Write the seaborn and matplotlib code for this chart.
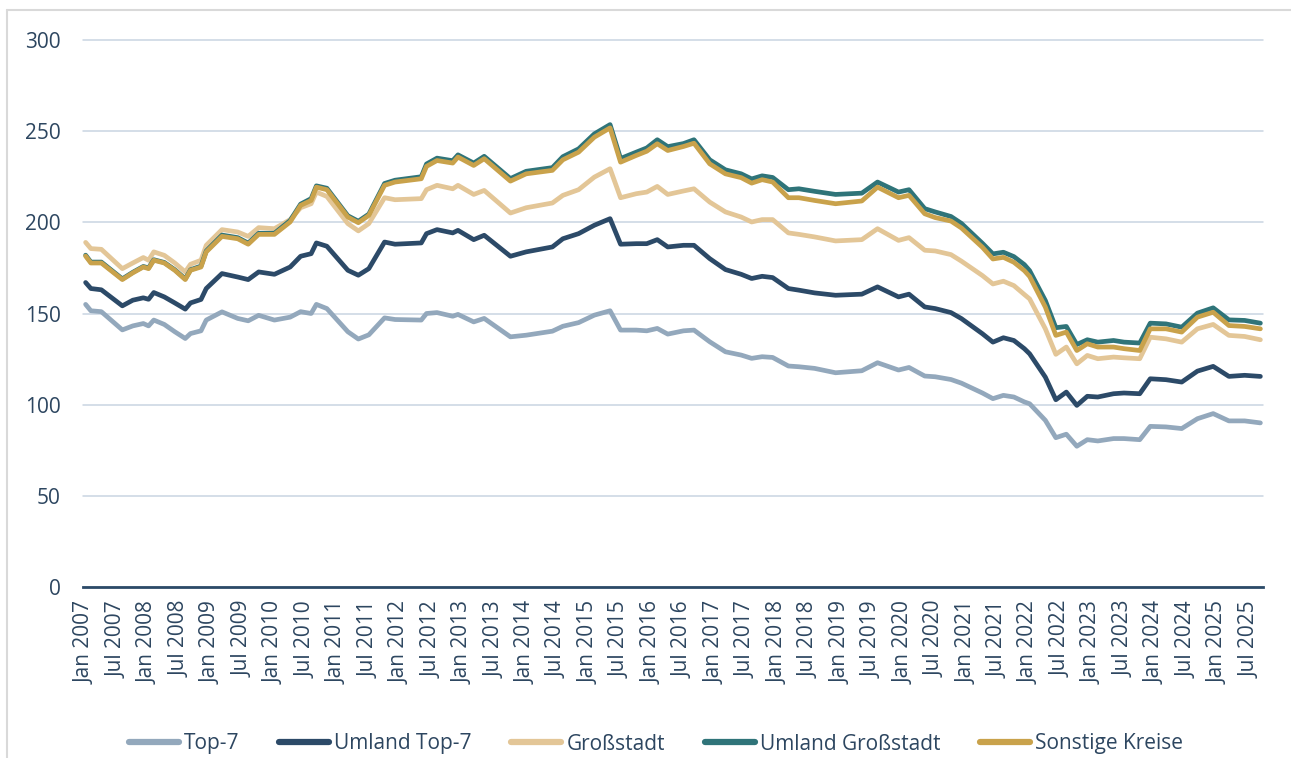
import matplotlib
matplotlib.use("Agg")
import matplotlib.pyplot as plt
from matplotlib.lines import Line2D
import seaborn as sns
import pandas as pd

# month offsets from Jan 2007 (0 = Jan 2007, 224 = Sep 2025)
month_index = [0, 1, 3, 7, 9, 11, 12, 13, 15, 17, 19, 20, 22, 23, 26, 29, 31, 33, 36, 39,
               41, 43, 44, 46, 50, 52, 54,
               57, 59, 64, 65, 67, 70, 71, 74, 76, 81, 84, 89, 91, 94, 97, 100, 102, 105,
               107, 109, 111,
               114, 116, 119, 122, 125, 127, 129, 131, 134, 136, 139, 143, 148, 151, 155,
               157, 160, 162, 165, 167,
               171, 173, 175, 177, 179, 180, 183, 185, 187, 189, 191, 193, 196, 198, 201,
               203, 206, 209, 212, 215, 218, 221, 224]

top7 = [155, 151.5, 151, 141, 143.2, 144.5, 143.2, 146.4, 144, 140, 136.3, 139, 140.5, 146.4,
        150.9, 147.3, 146, 149, 146.4, 148, 151, 150, 155, 152.7, 140, 136, 138.3,
        147.6, 146.7, 146.4, 150, 150.5, 148.5, 149.5, 145.4, 147.3, 137.2, 138.1, 140.3,
        143, 145, 149.1, 151.5, 140.9, 140.9, 140.5, 141.8, 138.7,
        140.5, 140.9, 134.5, 129, 127.2, 125.4, 126.3, 125.9, 121.2, 120.8, 119.9, 117.5,
        118.6, 123, 119, 120.4, 115.7, 115.3, 113.8, 111.8,
        106.4, 103.3, 105.1, 104.2, 101.5, 100.5, 91.4, 81.9, 83.8, 77.2, 80.8, 80.1, 81.4,
        81.4, 80.8, 88.1, 87.8, 86.9, 92.3, 95.1, 91.1, 91.1, 90]

umland_top7 = [167, 163.7, 163, 154.2, 157.3, 158.6, 157.8, 161.5, 159.1, 155.8, 152.4, 155.8,
               157.7, 163.7, 171.9, 170, 168.6, 172.8, 171.5, 175.5, 181.4, 182.8, 188.7,
               186.9, 173.7, 171, 174.6,
               189.2, 188, 188.7, 193.8, 196, 194.2, 195.6, 190.5, 192.9, 181.4, 183.8, 186.5,
               191, 193.8, 198.4, 202, 188, 188.3, 188.3, 190.5, 186.5,
               187.4, 187.4, 180.1, 174.1, 171.5, 169.2, 170.4, 169.7, 163.7, 162.8, 161.3,
               160, 160.6, 164.6, 159.1, 160.6, 153.6, 152.7, 150.5, 147.2,
               138.9, 134.3, 136.7, 135.2, 130.7, 127.9, 115.1, 102.7, 106.9, 99.6, 104.6,
               104.2, 106, 106.4, 106, 114.2, 113.7, 112.4, 118.4, 121, 115.5, 116.1, 115.5]

grossstadt = [189, 185.6, 185.2, 174.6, 177.7, 180.7, 179.2, 183.8, 181.9, 177.7, 172.8, 177,
              179.2, 187.4, 196, 194.7, 192.3, 197.1, 196.5, 201.5, 208, 210.2, 216.6, 214.2,
              199.3, 195.3, 199.3,
              213.5, 212.4, 213, 217.9, 220.3, 218.4, 220.3, 215.3, 217.5, 205.1, 208, 210.6,
              214.8, 217.9, 224.8, 229.4, 213.5, 215.7, 216.6, 219.7, 215.3,
              217.2, 218.4, 211.1, 205.7, 202.9, 200.2, 201.5, 201.5, 194.2, 193.4, 192,
              189.8, 190.5, 196.5, 190.1, 191.6, 184.7, 184.3, 182.3, 178.7,
              170.8, 166.2, 167.7, 165.3, 160.4, 158, 141.6, 127.6, 131.6, 122.4, 127, 125.2,
              126.1, 125.7, 125.2, 137, 136.1, 134.3, 141.6, 144, 138, 137.4, 135.6]

umland_grossstadt = [182, 178.2, 178.2, 169, 172.6, 175.8, 175, 179.5, 178, 174, 169, 174,
                     176, 184.3, 193, 191.6, 188.6, 194, 194, 201, 210, 213, 220, 218.7,
                     203.6, 200.6, 204.5,
                     221.3, 223.1, 225, 232, 235.2, 233.8, 237, 232.5, 236.2, 224, 228, 230,
                     236, 240.3, 248.5, 253.6, 235, 238.5, 240.8, 245.3, 241.5,
                     243.2, 245.3, 234.3, 228.8, 226.6, 223.8, 225.5, 224.6, 217.9, 218.4,
                     217, 215.3, 216, 222.1, 216.6, 217.9, 207.5, 205.7, 203.2, 199.4,
                     188.5, 182.7, 183.6, 181.2, 176.8, 173.5, 157.1, 142.2, 142.9, 133,
                     135.6, 134.3, 135.2, 134.3, 133.8, 144.7, 144.3, 142.5, 150.2, 153.1,
                     146.5, 146.2, 144.7]

sonstige_kreise = [181.5, 177.7, 177.7, 168.6, 172.3, 175.5, 174.6, 179.2, 177.7, 173.7, 168.6,
                   173.7, 175.5, 183.8, 192.3, 191, 188, 193.4, 193.4, 200.2, 209.3, 212,
                   219.3, 217.9, 202.9, 199.8, 203.8,
                   220.3, 222.1, 223.9, 230.7, 233.9, 232.5, 235.8, 231.2, 234.9, 222.6, 226.6,
                   228.5, 234.3, 238.5, 246.7, 251.8, 233, 236.7, 239, 243.1, 239.4,
                   241.6, 243.4, 232.1, 226.6, 224.5, 221.5, 223.4, 222.1, 213.5, 213.5, 212,
                   210.2, 211.7, 219.3, 213.5, 214.8, 204.7, 202.6, 200.7, 196.9,
                   186.3, 179.9, 180.8, 178.1, 173.5, 170.3, 153.5, 138, 139.8, 129.7, 133.4,
                   131.6, 131.6, 130.7, 129.7, 141.6, 141.6, 139.8, 148, 150.7, 143.4, 142.9,
                   141.6]

series_names = ["Top-7", "Umland Top-7", "Großstadt", "Umland Großstadt", "Sonstige Kreise"]
series_colors = ["#93A8BC", "#2C4A68", "#E3C697", "#2F7479", "#C9A24B"]

tick_labels = [f"{'Jan' if i % 2 == 0 else 'Jul'} {2007 + i // 2}" for i in range(38)]
tick_positions = [6 * i for i in range(len(tick_labels))]
y_ticks = [0, 50, 100, 150, 200, 250, 300]

text_color = "#2D4660"

sns.set_theme(style="white")
plt.rcParams["font.family"] = ["Open Sans", "DejaVu Sans"]

wide = pd.DataFrame({
    "month": month_index,
    "Top-7": top7,
    "Umland Top-7": umland_top7,
    "Großstadt": grossstadt,
    "Umland Großstadt": umland_grossstadt,
    "Sonstige Kreise": sonstige_kreise,
})
df = wide.melt(id_vars="month", var_name="series", value_name="value")

W, H = 1291, 758
fig = plt.figure(figsize=(W / 100, H / 100), dpi=100)
ax = fig.add_axes([83 / W, 1 - 587 / H, 1180 / W, 547 / H])

sns.lineplot(data=df, x="month", y="value", hue="series", hue_order=series_names,
             palette=series_colors, linewidth=3.4, legend=False, estimator=None, ax=ax)
for ln in ax.lines:
    ln.set_solid_joinstyle("round")
    ln.set_solid_capstyle("round")

ax.set_xlim(-0.5, 224.5)
ax.set_ylim(0, 300)
ax.set_yticks(y_ticks)
ax.set_xticks(tick_positions)
ax.set_xticklabels(tick_labels, rotation=90, va="top", ha="center")
ax.tick_params(axis="both", length=0, labelsize=15, labelcolor=text_color)
ax.tick_params(axis="y", pad=16)
ax.tick_params(axis="x", pad=10)
ax.set_xlabel("")
ax.set_ylabel("")

ax.grid(axis="y", color="#C9D5E2", linewidth=1.1)
ax.grid(axis="x", visible=False)
for gl in ax.get_ygridlines():
    gl.set_clip_on(False)
ax.set_axisbelow(True)
for s in ["top", "right", "left"]:
    ax.spines[s].set_visible(False)
ax.spines["bottom"].set_color("#2C4A68")
ax.spines["bottom"].set_linewidth(2.0)

# outer chart frame (top and left edges visible)
fig.add_artist(Line2D([7 / W, 1.0], [1 - 10 / H, 1 - 10 / H], transform=fig.transFigure,
                      color="#D9D9D9", linewidth=1.5))
fig.add_artist(Line2D([7 / W, 7 / W], [0.0, 1 - 10 / H], transform=fig.transFigure,
                      color="#D9D9D9", linewidth=1.5))

handles = [Line2D([0], [0], color=c, linewidth=4.5, solid_capstyle="round")
           for c in series_colors]
fig.legend(handles, series_names, loc="center", bbox_to_anchor=(656 / W, 1 - 744 / H),
           ncol=5, frameon=False, fontsize=15, handlelength=2.4, handletextpad=0.25,
           columnspacing=1.9, labelcolor=text_color)

fig.savefig("out.png", dpi=100)
